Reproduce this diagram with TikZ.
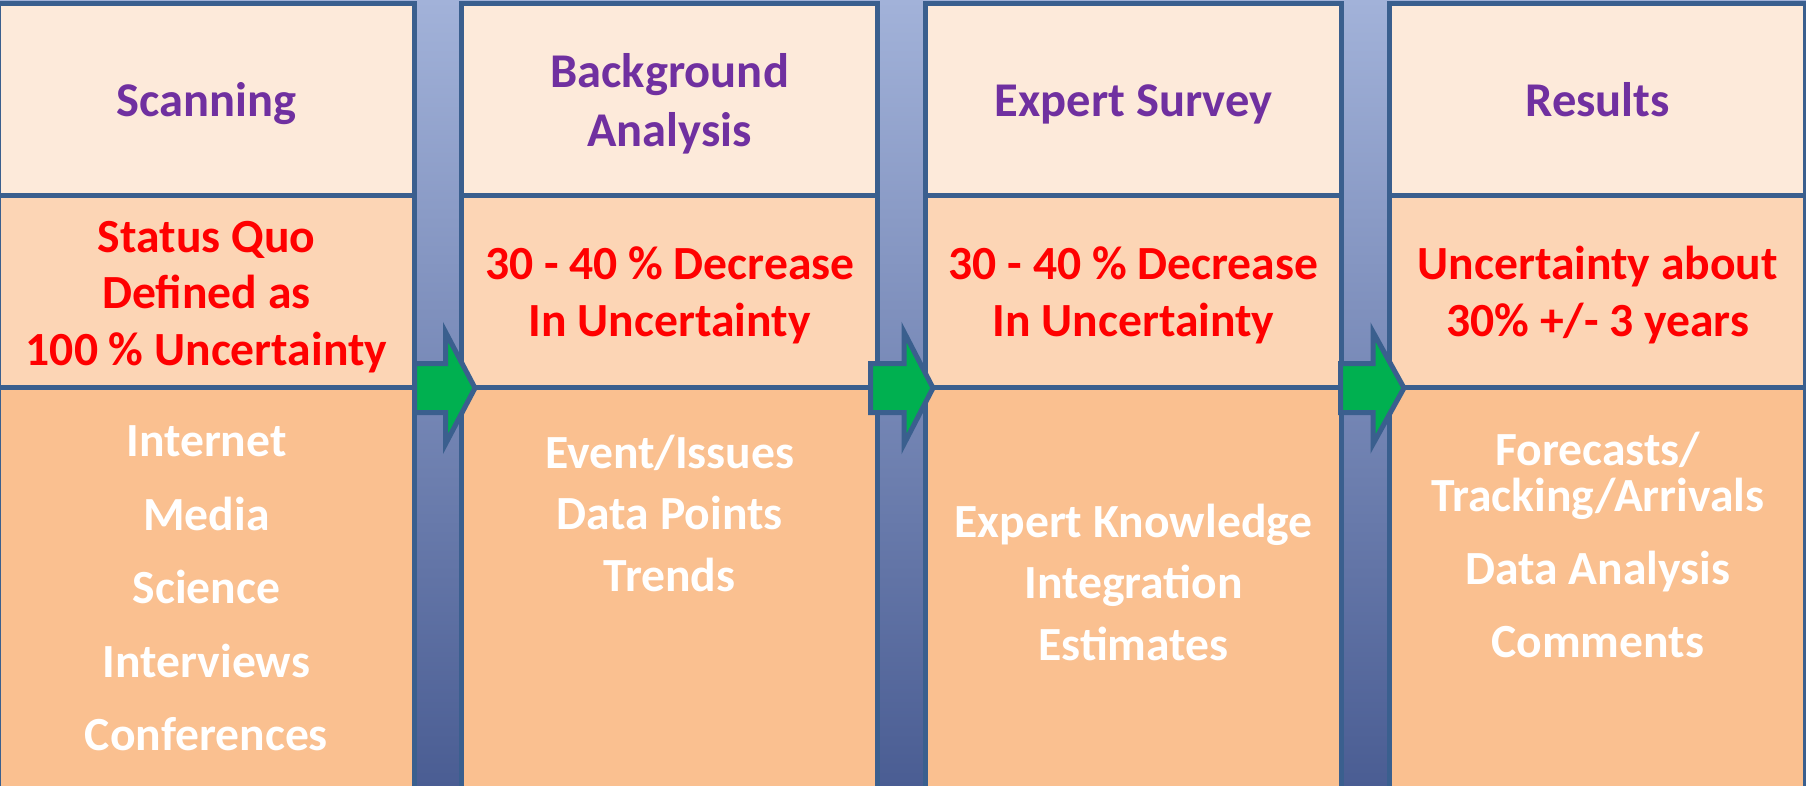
\documentclass[tikz,border=0pt]{standalone}
\usepackage{fontspec}
\setmainfont{Carlito}
\definecolor{bordc}{HTML}{3A5F8E}
\definecolor{topf}{HTML}{FDEADA}
\definecolor{midf}{HTML}{FCD5B5}
\definecolor{botf}{HTML}{FAC090}
\definecolor{purp}{HTML}{7030A0}
\definecolor{redt}{HTML}{FF0000}
\definecolor{arrg}{HTML}{00B050}
\definecolor{bgtop}{HTML}{A2B2D9}
\definecolor{bgmid}{HTML}{7A8CBD}
\definecolor{bgbot}{HTML}{4A5D93}
\tikzset{
  cell/.style={draw=bordc, line width=5pt, inner sep=0pt, minimum width=416pt},
  toprow/.style={cell, fill=topf, minimum height=192pt},
  midrow/.style={cell, fill=midf, minimum height=191.5pt},
  botrow/.style={cell, fill=botf, minimum height=400.5pt},
  ltitle/.style={anchor=base, inner sep=0pt, text=purp, font=\fontsize{48.5}{58}\selectfont\bfseries},
  lred/.style={anchor=base, inner sep=0pt, text=redt, font=\fontsize{47.6}{56}\selectfont\bfseries},
  lwhite/.style={anchor=base, inner sep=0pt, text=white, font=\fontsize{47.6}{56}\selectfont\bfseries},
  blockarrow/.style={fill=arrg, draw=bordc, line width=5pt, line join=miter}
}
\begin{document}
\begin{tikzpicture}[x=1pt,y=-1pt]
\useasboundingbox (0,0) rectangle (1806,786);
\shade[top color=bgtop, middle color=bgmid, bottom color=bgbot] (0,0) rectangle (1806,786);
\begin{scope}
\clip (0,0) rectangle (1806,786);
% columns
\foreach \c/\x in {1/206.5, 2/669.75, 3/1133.5, 4/1597.75}{
  \node[toprow] (t\c) at (\x,100) {};
  \node[midrow] (m\c) at (\x,291.75) {};
  \node[botrow] (b\c) at (\x,587.75) {};
}
\end{scope}
% titles
\node[ltitle] (t1a) at (206.5,116.7) {Scanning};
\node[ltitle] (t2a) at (669.75,87.2) {Background};
\node[ltitle] (t2b) at (669.75,146.2) {Analysis};
\node[ltitle] (t3a) at (1133.5,116.7) {Expert Survey};
\node[ltitle] (t4a) at (1597.75,116.7) {Results};
% middle row
\node[lred] (m1a) at (206.5,252.7) {Status Quo};
\node[lred] (m1b) at (206.5,308.3) {Defined as};
\node[lred] (m1c) at (206.5,365) {100 \% Uncertainty};
\node[lred] (m2a) at (669.75,279.8) {30 - 40 \% Decrease};
\node[lred] (m2b) at (669.75,336.8) {In Uncertainty};
\node[lred] (m3a) at (1133.5,279.8) {30 - 40 \% Decrease};
\node[lred] (m3b) at (1133.5,336.8) {In Uncertainty};
\node[lred] (m4a) at (1597.75,279.3) {Uncertainty about};
\node[lred] (m4b) at (1597.75,336.7) {30\% +/- 3 years};
% bottom row
\node[lwhite] (b1a) at (206.5,456.7) {Internet};
\node[lwhite] (b1b) at (206.5,530.7) {Media};
\node[lwhite] (b1c) at (206.5,603.3) {Science};
\node[lwhite] (b1d) at (206.5,677.3) {Interviews};
\node[lwhite] (b1e) at (206.5,750.7) {Conferences};
\node[lwhite] (b2a) at (669.75,468) {Event/Issues};
\node[lwhite] (b2b) at (669.75,529) {Data Points};
\node[lwhite] (b2c) at (669.75,591) {Trends};
\node[lwhite] (b3a) at (1133.5,537) {Expert Knowledge};
\node[lwhite] (b3b) at (1133.5,598) {Integration};
\node[lwhite] (b3c) at (1133.5,660) {Estimates};
\node[lwhite] (b4a) at (1597.75,465) {Forecasts/};
\node[lwhite] (b4b) at (1597.75,511.7) {Tracking/Arrivals};
\node[lwhite] (b4c) at (1597.75,584) {Data Analysis};
\node[lwhite] (b4d) at (1597.75,657.7) {Comments};
% arrows
\foreach \s/\h/\p in {414.5/445.5/475, 870.5/904/933, 1340.5/1373/1404}{
  \draw[blockarrow] (\s,363.5) -- (\h,363.5) -- (\h,332) -- (\p,388) -- (\h,444) -- (\h,412.5) -- (\s,412.5) -- cycle;
}
\end{tikzpicture}
\end{document}
